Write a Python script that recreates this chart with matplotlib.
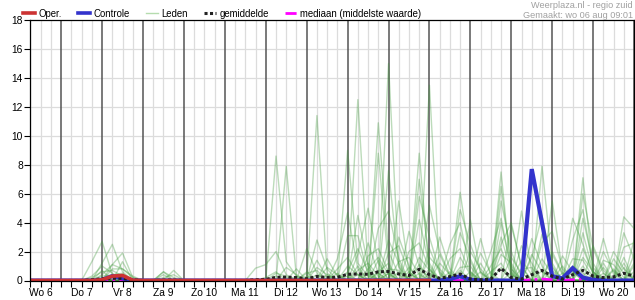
import numpy as np
import matplotlib.pyplot as plt
from matplotlib.lines import Line2D

plt.rcParams['font.family'] = ['Liberation Sans', 'DejaVu Sans']

# time axis: hours after Wo 6 00:00, one value every 6 hours
hours = np.arange(6, 361, 6)

day_labels = ['Wo 6', 'Do 7', 'Vr 8', 'Za 9', 'Zo 10', 'Ma 11', 'Di 12', 'Wo 13',
              'Do 14', 'Vr 15', 'Za 16', 'Zo 17', 'Ma 18', 'Di 19', 'Wo 20']

# operational run (mm), only until end of Vr 15
oper_hours = [6, 12, 18, 24, 30, 36, 42, 48, 54, 60, 66, 72, 96, 120, 144, 168, 192, 216, 240]
oper_vals = [0, 0, 0, 0, 0, 0, 0, 0.05, 0.3, 0.35, 0.02, 0, 0, 0, 0, 0, 0, 0, 0]

# control run (hour: mm), zero elsewhere
controle = {48: 0.05, 54: 0.3, 60: 0.15, 252: 0.1, 258: 0.3, 264: 0.05, 294: 0.0,
            300: 7.7, 306: 4.0, 312: 0.3, 318: 0.15, 324: 0.85, 330: 0.2, 336: 0.05}

# ensemble mean (hour: mm)
gemiddelde = {42: 0.05, 48: 0.12, 54: 0.15, 60: 0.15, 66: 0.05, 84: 0.03, 90: 0.03,
              138: 0.05, 144: 0.08, 150: 0.22, 156: 0.23, 162: 0.2, 168: 0.12, 174: 0.28,
              180: 0.2, 186: 0.22, 192: 0.43, 198: 0.45, 204: 0.43, 210: 0.6, 216: 0.62,
              222: 0.45, 228: 0.35, 234: 0.78, 240: 0.4, 246: 0.15, 252: 0.27, 258: 0.45,
              264: 0.1, 270: 0.05, 276: 0.1, 282: 0.85, 288: 0.2, 294: 0.1, 300: 0.4,
              306: 0.7, 312: 0.3, 318: 0.1, 324: 0.4, 330: 0.7, 336: 0.3, 342: 0.2,
              348: 0.25, 354: 0.5, 360: 0.3}

# ensemble median (hour: mm)
mediaan = {300: 0.05, 306: 0.1, 312: 0.05, 324: 0.05, 330: 0.1}

# ensemble members (hour: mm), zero elsewhere
leden = [
    {42: 1.3, 48: 2.7, 54: 0.4, 150: 8.6, 156: 1.3, 162: 0.3, 192: 9.0, 198: 1.2, 204: 0.3,
     234: 8.8, 240: 0.5, 282: 7.5, 288: 0.4, 330: 7.1, 336: 0.6},
    {48: 1.2, 54: 2.5, 60: 0.6, 156: 7.9, 162: 0.2, 180: 0.4, 198: 12.5, 204: 0.8, 216: 0.5,
     240: 13.5, 246: 0.4, 306: 7.9, 312: 1.2, 348: 0.8},
    {54: 1.1, 60: 1.9, 66: 0.2, 138: 0.85, 144: 1.1, 150: 2.0, 156: 0.4, 174: 11.4, 180: 0.5,
     216: 15.0, 222: 1.0, 258: 6.1, 264: 1.3, 318: 0.5},
    {48: 0.7, 60: 1.3, 84: 0.6, 150: 0.3, 168: 0.6, 210: 10.9, 216: 2.0, 222: 0.4, 264: 4.2,
     270: 0.5, 312: 5.5, 318: 0.6, 354: 4.4, 360: 3.6},
    {42: 0.3, 48: 1.0, 54: 0.5, 90: 0.7, 174: 2.8, 180: 0.8, 210: 8.8, 216: 1.0, 270: 2.9,
     276: 0.3, 294: 4.8, 300: 0.6, 342: 1.2},
    {54: 0.8, 60: 0.8, 66: 0.3, 198: 4.5, 204: 1.0, 216: 7.6, 222: 0.9, 234: 7.0, 240: 1.2,
     282: 6.5, 288: 1.0, 330: 4.3, 336: 1.2},
    {186: 1.5, 192: 4.7, 198: 0.8, 222: 5.5, 228: 0.6, 252: 2.5, 258: 4.0, 264: 0.6, 300: 2.9,
     306: 1.0, 342: 2.9, 348: 0.4},
    {168: 2.2, 174: 0.5, 192: 3.1, 198: 3.1, 204: 0.4, 228: 3.4, 234: 1.0, 246: 1.8, 252: 0.3,
     282: 5.5, 288: 2.0, 294: 0.2, 330: 6.0, 336: 2.2, 342: 0.5},
    {162: 0.8, 180: 1.5, 186: 0.3, 204: 2.6, 210: 0.5, 234: 5.8, 240: 3.0, 246: 0.6, 276: 2.0,
     282: 4.3, 288: 0.8, 324: 2.8, 330: 4.9, 336: 0.9, 354: 3.3, 360: 1.5},
    {150: 0.5, 156: 0.3, 198: 1.8, 204: 5.0, 210: 1.2, 240: 2.2, 246: 0.5, 258: 4.9, 264: 2.5,
     270: 0.6, 300: 1.6, 306: 4.5, 312: 1.0, 360: 2.8},
    {174: 1.4, 180: 0.2, 210: 3.6, 216: 4.8, 222: 1.5, 258: 3.3, 264: 1.5, 288: 3.8, 294: 1.0,
     312: 2.0, 318: 0.5, 330: 3.3, 336: 0.6, 348: 1.5, 354: 0.5},
    {192: 0.6, 198: 2.2, 204: 0.6, 222: 3.0, 228: 1.0, 240: 5.2, 246: 2.0, 252: 0.4, 282: 3.0,
     288: 0.6, 306: 2.6, 312: 3.4, 318: 0.8, 342: 2.0, 348: 0.6},
    {156: 0.9, 162: 0.4, 216: 2.8, 222: 1.2, 234: 4.2, 240: 1.0, 264: 2.0, 270: 0.8, 294: 2.4,
     300: 1.2, 324: 4.3, 330: 2.5, 336: 0.4, 360: 1.0},
    {180: 0.9, 186: 0.4, 204: 1.7, 210: 2.2, 216: 0.6, 246: 3.0, 252: 0.8, 282: 2.5, 288: 4.0,
     294: 0.9, 318: 1.7, 324: 0.6, 354: 2.3, 360: 2.6},
    {168: 0.5, 174: 0.7, 198: 1.0, 210: 1.4, 228: 2.0, 234: 2.6, 240: 0.8, 270: 1.9, 276: 0.5,
     306: 3.2, 312: 0.9, 336: 2.4, 342: 0.7},
    {162: 0.3, 186: 0.8, 192: 1.6, 198: 0.4, 216: 1.9, 222: 2.4, 228: 0.5, 258: 1.6, 264: 0.4,
     282: 4.0, 288: 0.8, 318: 1.0, 330: 2.2, 336: 0.5, 354: 1.6},
    {144: 0.2, 150: 0.6, 174: 0.9, 180: 0.4, 204: 0.8, 210: 1.6, 216: 0.4, 240: 1.6, 246: 0.8,
     276: 1.0, 282: 2.2, 288: 0.4, 300: 1.8, 306: 0.6, 348: 2.0, 354: 0.8},
    {192: 1.0, 198: 0.4, 222: 1.3, 228: 1.6, 234: 0.4, 252: 1.5, 258: 2.2, 264: 0.5, 294: 1.4,
     300: 0.4, 324: 1.5, 330: 1.4, 336: 0.2},
    {186: 0.5, 210: 0.6, 216: 1.2, 234: 1.6, 240: 0.7, 270: 1.2, 282: 1.8, 288: 1.2, 312: 1.8,
     318: 0.4, 342: 1.4, 348: 1.1, 354: 0.2},
    {174: 0.4, 198: 0.7, 204: 1.2, 210: 0.3, 228: 0.9, 240: 0.8, 258: 0.9, 264: 1.0, 288: 1.6,
     294: 0.5, 330: 1.6, 336: 0.6, 360: 0.6},
    {156: 0.2, 168: 0.3, 192: 0.5, 216: 0.8, 222: 0.7, 246: 1.2, 252: 0.4, 276: 0.6, 282: 1.2,
     306: 1.5, 312: 0.4, 342: 0.9, 354: 1.2},
    {180: 0.3, 204: 0.5, 222: 0.6, 234: 1.1, 258: 0.7, 270: 0.6, 294: 0.8, 300: 0.9, 324: 1.0,
     330: 0.5, 348: 0.7, 360: 1.8},
    {162: 0.1, 192: 0.3, 210: 0.5, 228: 0.6, 240: 0.4, 264: 0.6, 282: 0.9, 312: 0.7, 330: 1.0,
     354: 0.9},
    {198: 0.4, 216: 0.5, 234: 0.5, 252: 0.6, 288: 0.5, 306: 0.7, 324: 0.6, 342: 0.5, 360: 1.2},
    {48: 0.3, 54: 0.4, 60: 0.5, 84: 0.2, 90: 0.4},
    {42: 0.2, 48: 0.6, 54: 0.7, 60: 0.3, 84: 0.4},
    {48: 0.4, 54: 1.1, 60: 0.8, 66: 0.2, 84: 0.6, 90: 0.2},
]


def to_series(d):
    return np.array([d.get(h, 0.0) for h in hours])


fig = plt.figure(figsize=(6.35, 3.0), dpi=100)
ax = fig.add_axes([0.048, 0.065, 0.9505, 0.868])

# grid: light every 6 h, dark at midnight
for h in hours:
    if h % 24 == 0:
        ax.axvline(h, color='#555555', lw=1.1, zorder=1)
    else:
        ax.axvline(h, color='#dcdcdc', lw=0.9, zorder=0)
for v in range(2, 18, 2):
    ax.axhline(v, color='#dcdcdc', lw=0.9, zorder=0)

for m in leden:
    ax.plot(hours, to_series(m), color='#3f9a3a', alpha=0.35, lw=1.0, zorder=2)

ax.plot(hours, to_series(mediaan), color='#ff00ff', lw=2, ls=(0, (4, 1.5, 1, 1.5)), zorder=3)
ax.plot(hours, to_series(controle), color='#3333cc', lw=3.0, zorder=4, solid_joinstyle='miter')
ax.plot(hours, to_series(gemiddelde), color='#222222', lw=2.2, ls=(0, (1, 0.8)),
        dash_capstyle='butt', zorder=5)
ax.plot(oper_hours, oper_vals, color='#cc3333', lw=2.6, zorder=6)

ax.set_xlim(6, 360)
ax.set_ylim(0, 18)
ax.set_yticks(range(0, 19, 2))
ax.set_xticks(hours)
ax.set_xticklabels([day_labels[(h - 12) // 24] if h % 24 == 12 else '' for h in hours])
ax.tick_params(axis='both', length=4, width=0.8, color='black', labelsize=7.4, pad=1.5)
for s in ax.spines.values():
    s.set_color('black')
    s.set_linewidth(0.9)
    s.set_zorder(7)

handles = [
    Line2D([], [], color='#cc3333', lw=2.6),
    Line2D([], [], color='#3333cc', lw=2.6),
    Line2D([], [], color='#b5dcae', lw=1.0),
    Line2D([], [], color='#222222', lw=2.2, ls=(0, (1, 0.8)), dash_capstyle='butt'),
    Line2D([], [], color='#ff00ff', lw=2, ls=(0, (4, 1.5, 1, 1.5))),
]
names = ['Oper.', 'Controle', 'Leden', 'gemiddelde', 'mediaan (middelste waarde)']
fig.legend(handles, names, loc='upper left', bbox_to_anchor=(0.033, 0.978), ncol=5,
           frameon=False, fontsize=6.9, handlelength=1.3, handletextpad=0.3,
           columnspacing=1.7, borderaxespad=0, borderpad=0.2)

fig.text(0.997, 0.995, 'Weerplaza.nl - regio zuid', ha='right', va='top',
         color='#a0a0a0', fontsize=6.6)
fig.text(0.997, 0.963, 'Gemaakt: wo 06 aug 09:01', ha='right', va='top',
         color='#a0a0a0', fontsize=6.6)

fig.savefig('out.png', dpi=100)
